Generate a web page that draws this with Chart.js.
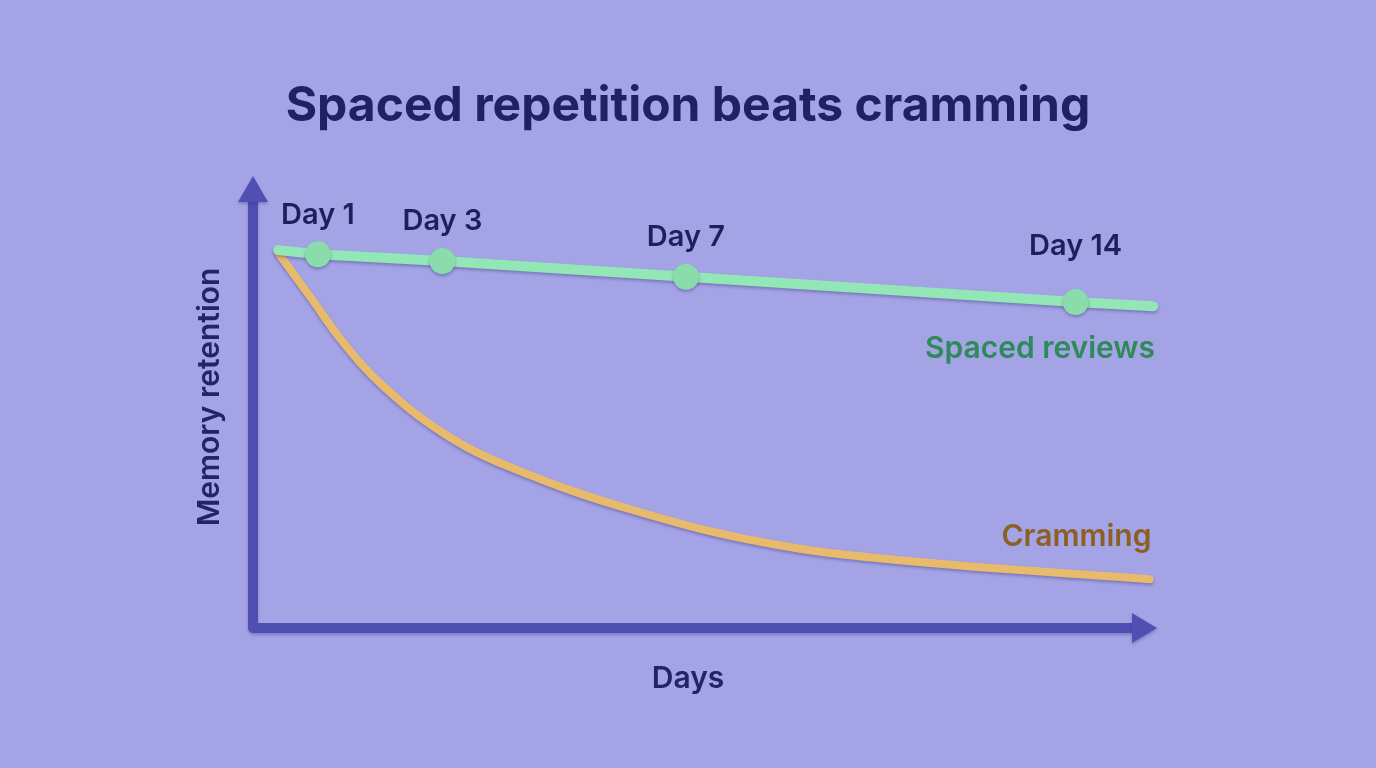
<!DOCTYPE html>
<html lang="en">
<head>
    <meta charset="UTF-8">
    <title>Spaced repetition beats cramming</title>
    <script src="https://cdn.jsdelivr.net/npm/chart.js"></script>
    <style>
        html, body { margin: 0; padding: 0; background: #a3a3e6; }
        #wrap { position: relative; width: 1376px; height: 768px; }
    </style>
</head>
<body>
    <div id="wrap">
        <canvas id="retentionChart" width="1376" height="768"></canvas>
    </div>
    <script>
        // Values (x: 0-100 along the time axis, y: 0-100 retention)
        const reviewLabels = ['Day 1', 'Day 3', 'Day 7', 'Day 14'];
        const spacedX = [2.8, 7.2, 21.0, 48.0, 91.2, 99.8];
        const spacedY = [83.6, 82.7, 81.2, 77.7, 72.1, 71.2];
        const reviewIndex = [1, 2, 3, 4]; // which spaced points are review dots
        const labelLift = [30, 31, 31, 47];   // gap between dot and its label

        const crammingX = [2.8, 6.3, 10.0, 14.4, 21.1, 28.5, 42.1, 57.0, 71.7, 99.4];
        const crammingY = [83.0, 73.4, 63.2, 53.6, 43.1, 35.6, 26.1, 18.8, 15.0, 10.8];

        const titleText = 'Spaced repetition beats cramming';
        const FONT = 'Inter, "Noto Sans", sans-serif';

        const spacedPoints = spacedX.map((x, i) => ({ x: x, y: spacedY[i] }));
        const crammingPoints = crammingX.map((x, i) => ({ x: x, y: crammingY[i] }));
        const spacedRadius = spacedX.map((x, i) => reviewIndex.includes(i) ? 13 : 0);

        // draws background, axes with arrow heads and all the text
        const decorPlugin = {
            id: 'decor',
            beforeDraw(chart) {
                const ctx = chart.ctx;
                ctx.save();
                ctx.fillStyle = '#a3a3e6';
                ctx.fillRect(0, 0, chart.width, chart.height);
                ctx.restore();
            },
            beforeDatasetsDraw(chart) {
                const ctx = chart.ctx;
                const xs = chart.scales.x, ys = chart.scales.y;
                const x0 = xs.getPixelForValue(0), xEnd = xs.getPixelForValue(100);
                const y0 = ys.getPixelForValue(0), yEnd = ys.getPixelForValue(100);

                ctx.save();
                ctx.shadowColor = 'rgba(40, 40, 110, 0.3)';
                ctx.shadowBlur = 3;
                ctx.shadowOffsetY = 2;
                ctx.strokeStyle = '#4f4fb2';
                ctx.lineWidth = 10;
                ctx.lineCap = 'round';
                ctx.lineJoin = 'round';
                ctx.beginPath();
                ctx.moveTo(x0, yEnd + 22);
                ctx.lineTo(x0, y0);
                ctx.lineTo(xEnd - 20, y0);
                ctx.stroke();

                ctx.fillStyle = '#5050b4';
                // y arrow
                ctx.beginPath();
                ctx.moveTo(x0, yEnd);
                ctx.lineTo(x0 - 15, yEnd + 26);
                ctx.lineTo(x0 + 15, yEnd + 26);
                ctx.closePath();
                ctx.fill();
                // x arrow
                ctx.beginPath();
                ctx.moveTo(xEnd + 2, y0);
                ctx.lineTo(xEnd - 23, y0 - 15);
                ctx.lineTo(xEnd - 23, y0 + 15);
                ctx.closePath();
                ctx.fill();
                ctx.restore();
            },
            afterDatasetsDraw(chart) {
                const ctx = chart.ctx;
                const xs = chart.scales.x, ys = chart.scales.y;
                ctx.save();

                // title
                ctx.fillStyle = '#222064';
                ctx.font = '700 48px ' + FONT;
                ctx.textAlign = 'center';
                ctx.textBaseline = 'alphabetic';
                ctx.fillText(titleText, 688, 121);

                // day labels above the review dots
                ctx.font = '600 29px ' + FONT;
                ctx.fillStyle = '#1f1f5c';
                reviewIndex.forEach((idx, i) => {
                    const px = xs.getPixelForValue(spacedX[idx]);
                    const py = ys.getPixelForValue(spacedY[idx]);
                    ctx.fillText(reviewLabels[i], px, py - labelLift[i]);
                });

                // series labels
                ctx.font = '600 30px ' + FONT;
                ctx.textAlign = 'right';
                ctx.fillStyle = '#2f8a5a';
                ctx.fillText('Spaced reviews', xs.getPixelForValue(100), 358);
                ctx.fillStyle = '#8c5f23';
                ctx.fillText('Cramming', xs.getPixelForValue(99.6), 546);

                // axis titles
                ctx.fillStyle = '#24236a';
                ctx.textAlign = 'center';
                ctx.fillText('Days', 688, 688);
                ctx.translate(219, 397);
                ctx.rotate(-Math.PI / 2);
                ctx.fillText('Memory retention', 0, 0);
                ctx.restore();
            }
        };

        // soft shadow under the lines for the raised look
        const shadowPlugin = {
            id: 'lineShadow',
            beforeDatasetDraw(chart) {
                const ctx = chart.ctx;
                ctx.save();
                ctx.shadowColor = 'rgba(50, 40, 110, 0.35)';
                ctx.shadowBlur = 3;
                ctx.shadowOffsetY = 2;
            },
            afterDatasetDraw(chart) {
                chart.ctx.restore();
            }
        };

        new Chart(document.getElementById('retentionChart'), {
            type: 'line',
            data: {
                datasets: [
                    {
                        label: 'Spaced reviews',
                        data: spacedPoints,
                        borderColor: '#93e6b6',
                        backgroundColor: '#8adcab',
                        borderWidth: 10,
                        pointRadius: spacedRadius,
                        pointBorderWidth: 0,
                        pointBackgroundColor: '#8adcab',
                        borderCapStyle: 'round',
                        borderJoinStyle: 'round',
                        tension: 0,
                        clip: false
                    },
                    {
                        label: 'Cramming',
                        data: crammingPoints,
                        borderColor: '#e8ba6c',
                        borderWidth: 8,
                        pointRadius: 0,
                        borderCapStyle: 'round',
                        borderJoinStyle: 'round',
                        tension: 0.4,
                        clip: false
                    }
                ]
            },
            options: {
                responsive: false,
                animation: false,
                layout: { padding: { left: 253, right: 221, top: 176, bottom: 140 } },
                scales: {
                    x: { type: 'linear', min: 0, max: 100, display: false },
                    y: { type: 'linear', min: 0, max: 100, display: false }
                },
                plugins: {
                    legend: { display: false },
                    title: { display: false },
                    tooltip: { enabled: false }
                }
            },
            plugins: [decorPlugin, shadowPlugin]
        });
    </script>
</body>
</html>
